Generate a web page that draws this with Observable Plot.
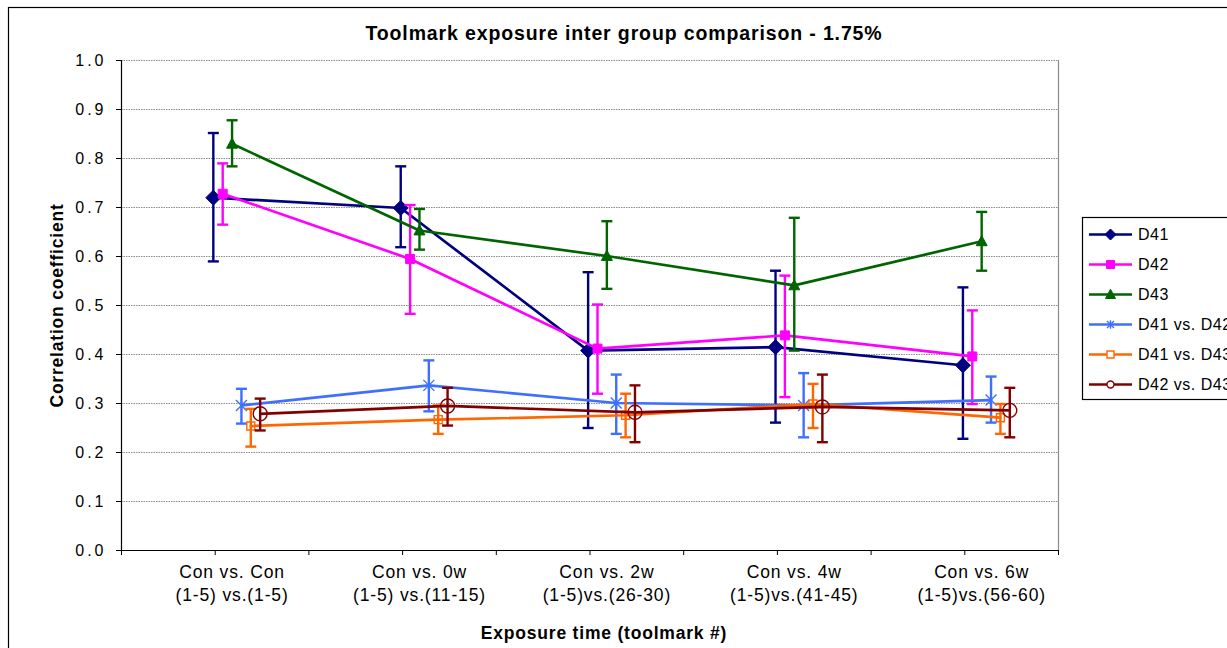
<!DOCTYPE html>
<html>
<head>
<meta charset="utf-8">
<script src="https://cdn.jsdelivr.net/npm/d3@7"></script>
<script src="https://cdn.jsdelivr.net/npm/@observablehq/plot@0.6"></script>
<style>
  html, body { margin: 0; padding: 0; background: #fff; }
  #chart { width: 1227px; height: 648px; overflow: hidden; }
  #chart svg { display: block; }
</style>
</head>
<body>
<div id="chart"></div>
<script>
// ---------- data ----------
const catLine1 = ["Con vs. Con", "Con vs. 0w", "Con vs. 2w", "Con vs. 4w", "Con vs. 6w"];
const catLine2 = ["(1-5) vs.(1-5)", "(1-5) vs.(11-15)", "(1-5)vs.(26-30)", "(1-5)vs.(41-45)", "(1-5)vs.(56-60)"];
const seriesNames = ["D41", "D42", "D43", "D41 vs. D42", "D41 vs. D43", "D42 vs. D43"];

const d41Mean = [0.720, 0.699, 0.408, 0.415, 0.378];
const d41Hi   = [0.852, 0.784, 0.568, 0.571, 0.537];
const d41Lo   = [0.590, 0.619, 0.250, 0.261, 0.228];

const d42Mean = [0.728, 0.595, 0.412, 0.439, 0.396];
const d42Hi   = [0.790, 0.705, 0.502, 0.561, 0.490];
const d42Lo   = [0.665, 0.483, 0.320, 0.313, 0.299];

const d43Mean = [0.830, 0.653, 0.601, 0.541, 0.631];
const d43Hi   = [0.878, 0.697, 0.672, 0.679, 0.691];
const d43Lo   = [0.784, 0.614, 0.534, 0.408, 0.571];

const d41v42Mean = [0.296, 0.337, 0.301, 0.296, 0.307];
const d41v42Hi   = [0.330, 0.388, 0.359, 0.362, 0.355];
const d41v42Lo   = [0.259, 0.284, 0.238, 0.231, 0.261];

const d41v43Mean = [0.254, 0.267, 0.276, 0.299, 0.271];
const d41v43Hi   = [0.289, 0.296, 0.320, 0.340, 0.299];
const d41v43Lo   = [0.212, 0.238, 0.231, 0.250, 0.238];

const d42v43Mean = [0.279, 0.295, 0.282, 0.293, 0.286];
const d42v43Hi   = [0.310, 0.332, 0.337, 0.359, 0.332];
const d42v43Lo   = [0.245, 0.255, 0.221, 0.221, 0.231];

const yTicks = [0, 0.1, 0.2, 0.3, 0.4, 0.5, 0.6, 0.7, 0.8, 0.9, 1.0];

// ---------- styles ----------
const FONT = "'Liberation Sans', Arial, Helvetica, sans-serif";
const DODGE = 0.05;           // horizontal offset between series (x units)
const X_DOMAIN = [0.41, 5.41];
const X_TICKSTEP = 0.5;

function rOf(size) { return Math.sqrt(size / Math.PI); }
const sym = {
  diamond: { draw(c, s) { const r = rOf(s); c.moveTo(0, -r); c.lineTo(r, 0); c.lineTo(0, r); c.lineTo(-r, 0); c.closePath(); } },
  square:  { draw(c, s) { const r = rOf(s); c.rect(-r, -r, 2 * r, 2 * r); } },
  triangle:{ draw(c, s) { const r = rOf(s); c.moveTo(0, -r * 1.05); c.lineTo(r, r * 0.8); c.lineTo(-r, r * 0.8); c.closePath(); } },
  star:    { draw(c, s) { const r = rOf(s); c.moveTo(-r, -r); c.lineTo(r, r); c.moveTo(-r, r); c.lineTo(r, -r); c.moveTo(0, -r * 1.2); c.lineTo(0, r * 1.2); } },
  circle:  { draw(c, s) { const r = rOf(s); c.moveTo(r, 0); c.arc(0, 0, r, 0, 2 * Math.PI); c.closePath(); } },
  cap:     { draw(c, s) { const r = rOf(s); c.moveTo(-r, 0); c.lineTo(r, 0); } }
};

const styles = [
  { color: "#000080", symbol: sym.diamond,  r: 7.5, fill: "#000080", sw: 1,   lr: 5.5 },
  { color: "#FF00FF", symbol: sym.square,   r: 4.5, fill: "#FF00FF", sw: 1,   lr: 4 },
  { color: "#006400", symbol: sym.triangle, r: 5.5, fill: "#006400", sw: 1,   lr: 5 },
  { color: "#3F6FFF", symbol: sym.star,     r: 5.5, fill: "none",    sw: 1.4, lr: 3.5 },
  { color: "#FF6600", symbol: sym.square,   r: 4,   fill: "none",    sw: 1.4, lr: 3.5 },
  { color: "#800000", symbol: sym.circle,   r: 7,   fill: "none",    sw: 1.4, lr: 3.5 }
];

// ---------- tidy table ----------
const means = [d41Mean, d42Mean, d43Mean, d41v42Mean, d41v43Mean, d42v43Mean];
const his   = [d41Hi, d42Hi, d43Hi, d41v42Hi, d41v43Hi, d42v43Hi];
const los   = [d41Lo, d42Lo, d43Lo, d41v42Lo, d41v43Lo, d42v43Lo];
const rows = [];
seriesNames.forEach((s, si) => catLine1.forEach((c, ci) => rows.push({
  series: s, si, cat: ci + 1, x: ci + 1 + (si - 2) * DODGE,
  mean: means[si][ci], hi: his[si][ci], lo: los[si][ci]
})));
const cats = catLine1.map((c, i) => ({ x: i + 1, label: c + "\n" + catLine2[i] }));
const xTickVals = d3.range(X_DOMAIN[0], X_DOMAIN[1] + 1e-9, X_TICKSTEP);

// ---------- marks ----------
const seriesMarks = seriesNames.flatMap((s, si) => {
  const d = rows.filter(r => r.si === si);
  const st = styles[si];
  return [
    Plot.line(d, { x: "x", y: "mean", stroke: st.color, strokeWidth: 2.7 }),
    Plot.ruleX(d, { x: "x", y1: "lo", y2: "hi", stroke: st.color, strokeWidth: 2.4 }),
    Plot.dot(d, { x: "x", y: "hi", symbol: sym.cap, r: 5.5, stroke: st.color, strokeWidth: 2.4 }),
    Plot.dot(d, { x: "x", y: "lo", symbol: sym.cap, r: 5.5, stroke: st.color, strokeWidth: 2.4 }),
    Plot.dot(d, { x: "x", y: "mean", symbol: st.symbol, r: st.r, fill: st.fill, stroke: st.color, strokeWidth: st.sw })
  ];
});

const plot = Plot.plot({
  width: 1227,
  height: 648,
  marginLeft: 121,
  marginRight: 169,
  marginTop: 60,
  marginBottom: 98,
  style: { fontFamily: FONT, fontSize: "15px", color: "#000", background: "#fff", overflow: "hidden" },
  x: { domain: X_DOMAIN, axis: null },
  y: { domain: [0, 1], axis: null },
  marks: [
    Plot.ruleY(yTicks.filter(v => v > 0), { stroke: "#8c8c8c", strokeWidth: 1, strokeDasharray: "1.5,1" }),
    Plot.ruleX([X_DOMAIN[1]], { stroke: "#8c8c8c", strokeWidth: 1.2 }),
    Plot.axisY({ ticks: yTicks, tickFormat: d3.format(".1f"), tickSize: 5, tickPadding: 10, label: null, fontSize: 16, stroke: "#000" }),
    Plot.axisX({ ticks: xTickVals, tickFormat: () => "", tickSize: 5, label: null, stroke: "#000" }),
    Plot.ruleX([X_DOMAIN[0]], { stroke: "#000", strokeWidth: 1.2 }),
    Plot.ruleY([0], { stroke: "#000", strokeWidth: 1.2 }),
    ...seriesMarks,
    Plot.text(cats, { x: "x", y: () => 0, text: "label", dy: 31.5, lineAnchor: "middle", lineHeight: 1.3, fontSize: 17.5 }),
    Plot.text(["Toolmark exposure inter group comparison - 1.75%"], { frameAnchor: "top", textAnchor: "middle", lineAnchor: "middle", dx: 34, dy: -27, fontSize: 19.5, fontWeight: "bold" }),
    Plot.text(["Exposure time (toolmark #)"], { frameAnchor: "bottom", textAnchor: "middle", lineAnchor: "middle", dx: 14, dy: 83, fontSize: 17.5, fontWeight: "bold" }),
    Plot.text(["Correlation coefficient"], { frameAnchor: "left", textAnchor: "middle", lineAnchor: "middle", dx: -64, rotate: -90, fontSize: 17.5, fontWeight: "bold" })
  ]
});

document.getElementById("chart").appendChild(plot);

// ---------- text spacing (Excel renders text a little wider) ----------
const svg = d3.select(plot);
const textGroups = svg.selectAll('g[aria-label="text"]').nodes();
const spacings = [0.85, 0.87, 0.8, 0.8]; // categories, title, x title, y title
textGroups.forEach((g, i) => { if (spacings[i] != null) g.setAttribute("letter-spacing", spacings[i]); });
svg.selectAll('g[aria-label="y-axis tick label"]').attr("letter-spacing", 3);

// ---------- outer border + legend ----------
svg.append("rect")
  .attr("x", 8.5).attr("y", 7.5).attr("width", 1400).attr("height", 800)
  .attr("fill", "none").attr("stroke", "#000").attr("stroke-width", 1.2);

const lg = svg.append("g").attr("font-family", FONT).attr("font-size", 16).attr("text-anchor", "start");
lg.append("rect")
  .attr("x", 1082.5).attr("y", 217.5).attr("width", 200).attr("height", 182)
  .attr("fill", "#fff").attr("stroke", "#000").attr("stroke-width", 1.2);
seriesNames.forEach((s, i) => {
  const st = styles[i];
  const y = 234.5 + 30 * i;
  const g = lg.append("g").attr("transform", `translate(0,${y})`);
  g.append("line").attr("x1", 1089).attr("x2", 1132).attr("y1", 0).attr("y2", 0)
    .attr("stroke", st.color).attr("stroke-width", 2.7);
  const p = d3.path();
  st.symbol.draw(p, st.lr * st.lr * Math.PI);
  g.append("path").attr("d", p.toString()).attr("transform", "translate(1110.5,0)")
    .attr("fill", st.fill === "none" ? "#fff" : st.fill).attr("stroke", st.color).attr("stroke-width", st.sw);
  g.append("text").attr("x", 1138).attr("y", 0).attr("dy", "0.35em").attr("fill", "#000")
    .attr("text-anchor", "start").attr("letter-spacing", 0.5).text(s);
});
</script>
</body>
</html>
